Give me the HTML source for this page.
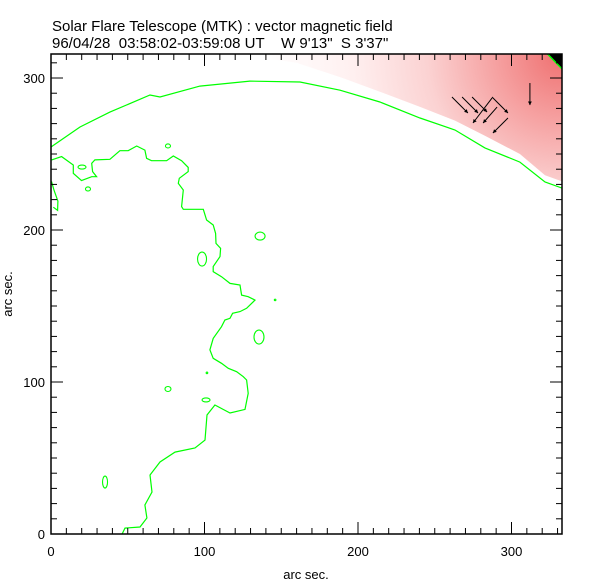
<!DOCTYPE html>
<html><head><meta charset="utf-8"><style>
html,body{margin:0;padding:0;background:#fff;}
svg{display:block;font-family:"Liberation Sans",sans-serif;}
</style></head><body>
<svg id="chart" width="612" height="585" viewBox="0 0 612 585" xmlns="http://www.w3.org/2000/svg">
<defs>
<radialGradient id="rg" cx="562" cy="54" r="300" gradientUnits="userSpaceOnUse">
<stop offset="0" stop-color="#ef7070"/>
<stop offset="0.2" stop-color="#f59c9c"/>
<stop offset="0.45" stop-color="#fbd2d2"/>
<stop offset="0.7" stop-color="#fff0f0"/>
<stop offset="1" stop-color="#ffffff"/>
</radialGradient>
<clipPath id="plotclip"><rect x="51" y="54" width="511" height="480"/></clipPath>
</defs>
<text x="52" y="31" font-size="15">Solar Flare Telescope (MTK) : vector magnetic field</text>
<text x="52" y="48" font-size="15" xml:space="preserve">96/04/28  03:58:02-03:59:08 UT    W 9'13"  S 3'37"</text>
<g id="plot" clip-path="url(#plotclip)"></g>
<g id="axes"></g>
<text x="306" y="579" font-size="13" text-anchor="middle">arc sec.</text>
<text x="0" y="0" font-size="13" text-anchor="middle" transform="translate(12,294) rotate(-90)">arc sec.</text>
</svg>
<script>
const xTicks = [0, 100, 200, 300];
const yTicks = [0, 100, 200, 300];
const xRange = [0, 332.9];
const yRange = [0, 315.8];
const limbX = [0, 18.9, 38.4, 64.5, 71, 97, 129.6, 162.2, 188.3, 214.3, 240.4, 263.2, 282.7, 305.5, 321.8, 332.9];
const limbY = [254.6, 267.8, 277.6, 288.8, 287.5, 294.7, 298, 297.4, 292, 284.2, 273.7, 265.8, 254, 244.7, 231.6, 227.6];
const filX = [0.4,6.9,14.5,14.5,19.9,26.5,29.7,27.1,26.5,28.6,38.4,44.9,50.3,55.8,61.2,62.3,65.5,75.3,79.7,85.1,89.4,89.4,83.6,82.9,86.2,85.1,86.2,99.2,101.4,105.7,107.2,107.5,110.5,110.1,105.7,105.7,111.1,116.6,123.1,124.2,128.5,132.9,127.4,123.1,118.3,116.6,113.3,111.1,105.7,103.5,105.7,111.1,115.5,120.9,125.3,127.4,128.5,126.4,116.6,106.8,101.6,100.3,93.8,80.8,71,64.5,65.8,61.2,62.5,58,48.2,46.3];
const filY = [246.1,248.3,242.8,237.3,232.5,235.1,235.1,238.4,243.9,246.1,246.5,252.2,252.2,255.3,252.6,247.2,245.6,245.6,248.7,245.6,241.2,238.4,234,230.7,226.3,215.4,213.6,213.6,206.6,203.3,197.8,191.2,187.9,182.5,175.9,172.6,169.3,164.9,163.8,157.2,156.1,153.9,148.5,146.3,145.2,141.9,140.8,136.4,128.7,121.1,115.6,112.3,109,106.8,103.5,101.3,92.6,82,79.6,84.9,78.3,61.8,56.6,53.9,47.4,38.8,27.6,19.1,10.5,4.6,3.9,0];
const stubX = [0.3, 2, 4.5, 4.3, 1.5];
const stubY = [232, 226, 219, 213, 215];
const loopX = [76.2, 20.2, 24.1, 136.2, 98.4, 135.5, 76.2, 101, 35.2, 146, 101.6];
const loopY = [255.3, 241.4, 227, 196, 180.9, 129.6, 95.4, 88.2, 34.2, 154, 106];
const loopRX = [2.5, 4, 2.5, 5, 4.5, 5, 3, 4, 2.5, 0.8, 0.8];
const loopRY = [2, 2, 2, 4, 7, 7, 2.5, 2, 6, 0.8, 0.8];
const arrowX = [261.2, 267.8, 274.3, 287.3, 287.3, 290.6, 297.7, 312];
const arrowY = [287.5, 287.5, 287.5, 287.5, 286.8, 280.9, 273.7, 296.7];
const arrowDX = [10.4, 10.4, 9.8, 10.4, -12.4, -9.1, -9.8, 0];
const arrowDY = [-10.5, -10.5, -9.9, -10.5, -16.4, -10.5, -9.9, -14.5];
const shadeX = [120, 332.9, 332.9, 321.8, 305.5, 282.7, 263.2, 240.4, 214.3, 190, 160, 120];
const shadeY = [315.8, 315.8, 232, 236, 250, 262, 272, 281, 291, 300, 310, 315.8];
const blackX = [323.5, 332.9, 332.9];
const blackY = [315.8, 315.8, 306];

const L=51,R=562,T=54,B=534;
function sx(v){return L+(v-xRange[0])/(xRange[1]-xRange[0])*(R-L);}
function sy(v){return B-(v-yRange[0])/(yRange[1]-yRange[0])*(B-T);}
const NS="http://www.w3.org/2000/svg";
const plot=document.getElementById('plot'), axes=document.getElementById('axes');
function mk(tag,attrs,parent){const e=document.createElementNS(NS,tag);for(const k in attrs)e.setAttribute(k,attrs[k]);parent.appendChild(e);return e;}
function pts(xs,ys){return xs.map((x,i)=>sx(x).toFixed(1)+','+sy(ys[i]).toFixed(1)).join(' ');}

let sh=mk('polygon',{points:pts(shadeX,shadeY),fill:'url(#rg)'},plot);


let bk=mk('polygon',{points:pts(blackX,blackY),fill:'#000'},plot);


let bl=mk('line',{x1:sx(blackX[0]),y1:sy(blackY[0]),x2:sx(blackX[2]),y2:sy(blackY[2]),stroke:'#00ff00','stroke-width':1.5},plot);



function poly(xs,ys,name){const p=mk('polyline',{points:pts(xs,ys),fill:'none',stroke:'#00ff00','stroke-width':1.2},plot);

}
poly(limbX,limbY,'limb-contour');
poly(filX,filY,'filament-contour');
poly(stubX,stubY,'left-edge-contour');
loopX.forEach((x,i)=>{const e=mk('ellipse',{cx:sx(x),cy:sy(loopY[i]),rx:loopRX[i],ry:loopRY[i],fill:'none',stroke:'#00ff00','stroke-width':1.1},plot);

});

arrowX.forEach((x,i)=>{const x1=sx(x),y1=sy(arrowY[i]),x2=sx(x+arrowDX[i]),y2=sy(arrowY[i]+arrowDY[i]);
const g=mk('g',{},plot);


mk('line',{x1,y1,x2,y2,stroke:'#000','stroke-width':1},g);
const a=Math.atan2(y2-y1,x2-x1),h=4;
const p1=(x2-h*Math.cos(a-0.5))+','+(y2-h*Math.sin(a-0.5)),p2=(x2-h*Math.cos(a+0.5))+','+(y2-h*Math.sin(a+0.5));
mk('polygon',{points:x2+','+y2+' '+p1+' '+p2,fill:'#000'},g);});

const fr=mk('rect',{x:L,y:T,width:R-L,height:B-T,fill:'none',stroke:'#000','stroke-width':1.5},axes);


for(let v=0;v<=xRange[1];v+=10){const X=sx(v),len=(v%100===0)?12:6;
mk('line',{x1:X,y1:B,x2:X,y2:B-len,stroke:'#000','stroke-width':1},axes);
mk('line',{x1:X,y1:T,x2:X,y2:T+len,stroke:'#000','stroke-width':1},axes);}
for(let v=0;v<=yRange[1];v+=10){const Y=sy(v),len=(v%100===0)?12:6;
mk('line',{x1:L,y1:Y,x2:L+len,y2:Y,stroke:'#000','stroke-width':1},axes);
mk('line',{x1:R,y1:Y,x2:R-len,y2:Y,stroke:'#000','stroke-width':1},axes);}
xTicks.forEach(v=>{const t=mk('text',{x:sx(v),y:556,'font-size':13,'text-anchor':'middle'},axes);t.textContent=v;

});
yTicks.forEach(v=>{const t=mk('text',{x:45,y:sy(v)+5,'font-size':13,'text-anchor':'end'},axes);t.textContent=v;

});
</script>
</body></html>
